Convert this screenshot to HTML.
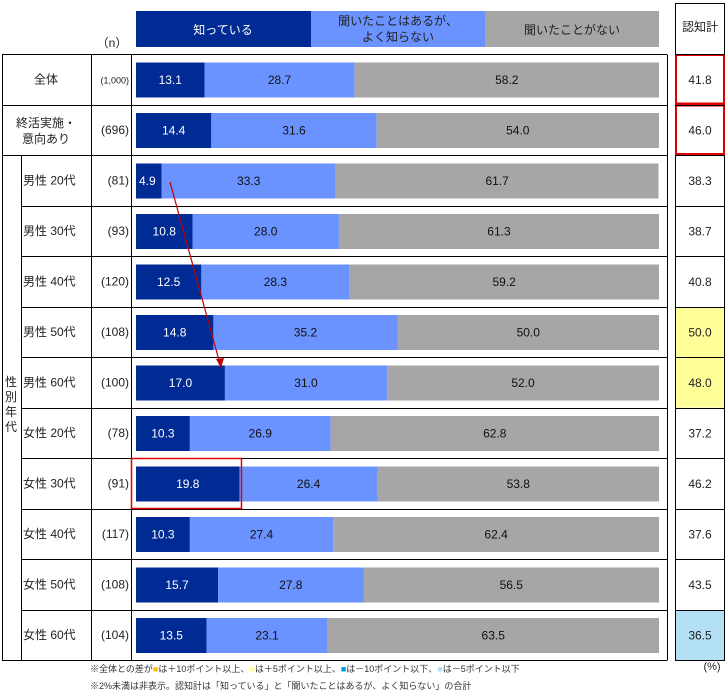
<!DOCTYPE html>
<html><head><meta charset="utf-8"><style>
body{margin:0;background:#fff;}
svg{display:block;font-family:"Liberation Sans","Noto Sans CJK JP",sans-serif;}
</style></head><body>
<svg id="chart" width="728" height="690" xmlns="http://www.w3.org/2000/svg">
<g id="header">
 <rect x="136" y="11" width="175" height="36" fill="#002a94"/>
 <rect x="311" y="11" width="174" height="36" fill="#6b93ff"/>
 <rect x="485" y="11" width="174" height="36" fill="#a6a6a6"/>
 <text x="223" y="34" font-size="12" fill="#fff" text-anchor="middle">知っている</text>
 <text x="398" y="25" font-size="12" fill="#222" text-anchor="middle">聞いたことはあるが、</text>
 <text x="398" y="41" font-size="12" fill="#222" text-anchor="middle">よく知らない</text>
 <text x="572" y="34" font-size="12" fill="#222" text-anchor="middle">聞いたことがない</text>
 <text x="112" y="47" font-size="12" fill="#222" text-anchor="middle">（n）</text>
 <text x="700" y="31" font-size="12" fill="#222" text-anchor="middle">認知計</text>
</g>
<g id="grid"></g>
<g id="rows"></g>
<line x1="170" y1="182" x2="220" y2="364" stroke="#c00000" stroke-width="1.2"/>
<polygon points="221,368 216,359 224,358" fill="#c00000"/>
<rect x="131.5" y="458.5" width="110" height="50" fill="none" stroke="#e00000" stroke-width="1.5"/>
<text x="90" y="672" font-size="9" fill="#333">※全体との差が<tspan fill="#ffc000">■</tspan>は＋10ポイント以上、<tspan fill="#ffff99">■</tspan>は＋5ポイント以上、<tspan fill="#0099dd">■</tspan>は－10ポイント以下、<tspan fill="#b3e0f5">■</tspan>は－5ポイント以下</text>
<text x="90" y="689" font-size="9" fill="#333">※2%未満は非表示。認知計は「知っている」と「聞いたことはあるが、よく知らない」の合計</text>
<text x="712" y="670" font-size="11" fill="#222" text-anchor="middle">(%)</text>
</svg>
<script>
const labels=["全体","終活実施・意向あり","男性 20代","男性 30代","男性 40代","男性 50代","男性 60代","女性 20代","女性 30代","女性 40代","女性 50代","女性 60代"];
const nVals=["(1,000)","(696)","(81)","(93)","(120)","(108)","(100)","(78)","(91)","(117)","(108)","(104)"];
const know=[13.1,14.4,4.9,10.8,12.5,14.8,17.0,10.3,19.8,10.3,15.7,13.5];
const heard=[28.7,31.6,33.3,28.0,28.3,35.2,31.0,26.9,26.4,27.4,27.8,23.1];
const unknown=[58.2,54.0,61.7,61.3,59.2,50.0,52.0,62.8,53.8,62.4,56.5,63.5];
const totals=[41.8,46.0,38.3,38.7,40.8,50.0,48.0,37.2,46.2,37.6,43.5,36.5];
const totalFill=["#fff","#fff","#fff","#fff","#fff","#ffff99","#ffff99","#fff","#fff","#fff","#fff","#b3e0f5"];
const NS="http://www.w3.org/2000/svg";
const x0=136,x1=659;
const xs=v=>x0+(x1-x0)*v/100;
const rowTop=i=>54+i*50.5;
const rowsG=document.getElementById('rows'),gridG=document.getElementById('grid');
function el(tag,a,p){const e=document.createElementNS(NS,tag);for(const k in a)e.setAttribute(k,a[k]);p.appendChild(e);return e;}
const yTop=54,yBot=rowTop(12);
for(let i=0;i<=12;i++){const y=Math.round(rowTop(i))+0.5;const l=el('line',{x1:(i>=3&&i<=11)?21:2,x2:667,y1:y,y2:y,stroke:'#000','stroke-width':1},gridG);
}
[[2,yTop,yBot],[21,rowTop(2),yBot],[91,yTop,yBot],[131,yTop,yBot],[667,yTop,yBot]].forEach(([x,a,b])=>{const l=el('line',{x1:x+0.5,x2:x+0.5,y1:Math.round(a)+0.5,y2:Math.round(b)+0.5,stroke:'#000'},gridG);
});
const ob=el('rect',{x:675.5,y:3.5,width:49,height:Math.round(yBot)-3,fill:'none',stroke:'#000'},gridG);

const sg=el('text',{x:11,y:392,'font-size':12,'text-anchor':'middle',fill:'#222'},gridG);

["性","別","年","代"].forEach((c,k)=>{const t=el('tspan',{x:11,y:386+k*15},sg);t.textContent=c;});
for(let i=0;i<labels.length;i++){
 const y=rowTop(i),cy=y+25.5,g=el('g',{},rowsG);
 
 if(i<2){
  if(i===0){const t=el('text',{x:46,y:cy+4,'font-size':12,'text-anchor':'middle',fill:'#222'},g);t.textContent=labels[i];}
  else{const t=el('text',{x:46,y:cy-3,'font-size':12,'text-anchor':'middle',fill:'#222'},g);t.textContent="終活実施・";
   const t2=el('text',{x:46,y:cy+13,'font-size':12,'text-anchor':'middle',fill:'#222'},g);t2.textContent="意向あり";}
 } else {const t=el('text',{x:23,y:cy+4,'font-size':12,fill:'#222'},g);t.textContent=labels[i];}
 const n=el('text',{x:129,y:cy+4,'font-size':i===0?9:12,'text-anchor':'end',fill:'#222'},g);n.textContent=nVals[i];
 
 const by=y+8.5,bh=35;
 const segs=[[0,know[i],'#002a94','#fff'],[know[i],know[i]+heard[i],'#6b93ff','#111'],[know[i]+heard[i],know[i]+heard[i]+unknown[i],'#a6a6a6','#111']];
 const vals=[know[i],heard[i],unknown[i]];
 segs.forEach((s,k)=>{const r=el('rect',{x:xs(s[0]),y:by,width:Math.max(0,Math.min(xs(s[1]),x1)-xs(s[0])),height:bh,fill:s[2]},g);
  
  const small=(k===0&&vals[k]<6);
  const cx=small?xs(s[0])+3:(xs(s[0])+Math.min(xs(s[1]),x1))/2;
  const t=el('text',{x:cx,y:cy+4.5,'font-size':12,'text-anchor':small?'start':'middle',fill:s[3]},g);t.textContent=vals[k].toFixed(1);
  });
 const tb=el('rect',{x:676,y:y+1,width:48,height:49.5,fill:totalFill[i]},g);
 
 if(i<2){const rb=el('rect',{x:676,y:y+1,width:48,height:48.5,fill:'none',stroke:'#e00000','stroke-width':2},g);}
 const tt=el('text',{x:700,y:cy+4.5,'font-size':12,'text-anchor':'middle',fill:'#222'},g);tt.textContent=totals[i].toFixed(1);
 
 const sl=el('line',{x1:675,x2:725,y1:Math.round(y)+0.5,y2:Math.round(y)+0.5,stroke:'#000'},g);
 
}
const bl=el('line',{x1:675,x2:725,y1:Math.round(yBot)+0.5,y2:Math.round(yBot)+0.5,stroke:'#000'},gridG);

</script>
</body></html>
